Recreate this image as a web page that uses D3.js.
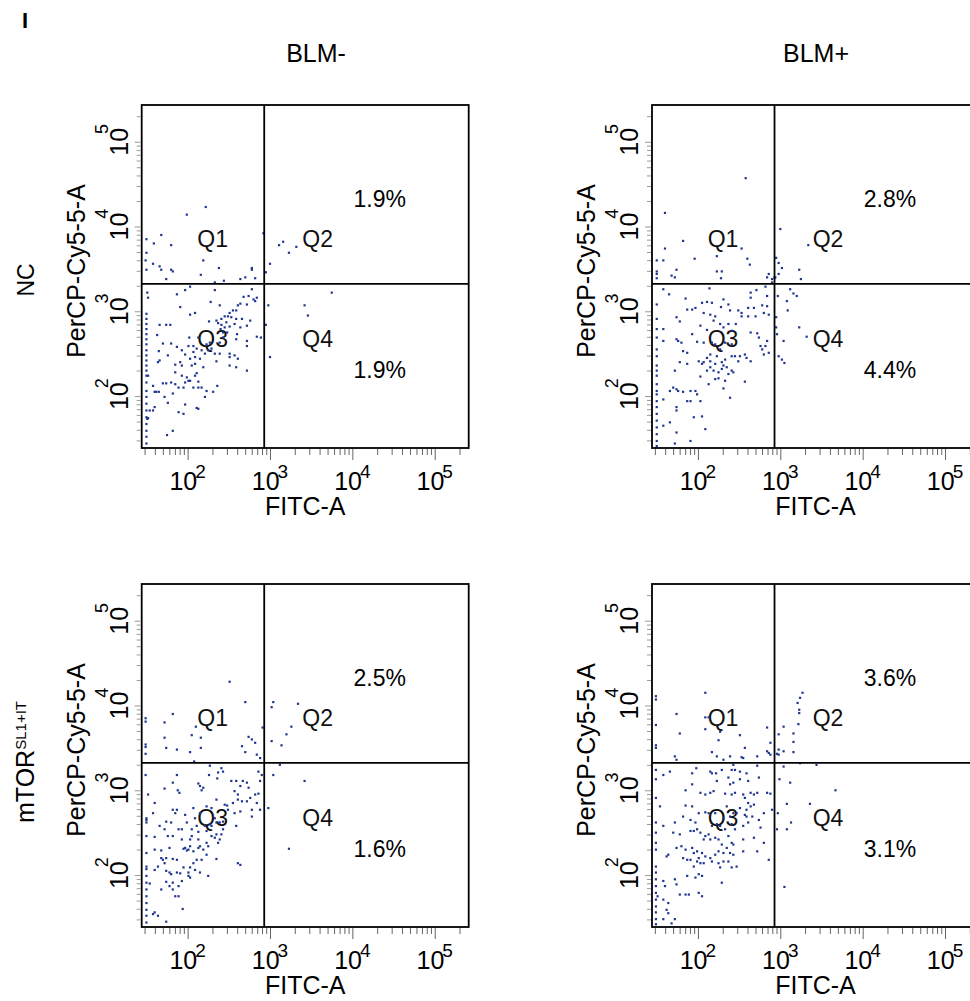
<!DOCTYPE html>
<html>
<head>
<meta charset="utf-8">
<script src="https://cdn.jsdelivr.net/npm/d3@7"></script>
<style>
  body { margin: 0; background: #fff; }
  svg { display: block; font-family: "Liberation Sans", Arial, sans-serif; }
</style>
</head>
<body>
<div id="chart"></div>
<script>
// column / row headings
const columns = ["BLM-", "BLM+"];
const rows = ["NC", "mTOR"];
const rowSup = ["", "SL1+IT"];

// quadrant gates (FITC-A, PerCP-Cy5-5-A)
const gateFitc = 851;
const gatePercp = 2100;

// Q2 / Q4 percentages per panel (NC-, NC+, mTOR-, mTOR+)
const q2Pct = ["1.9%", "2.8%", "2.5%", "3.6%"];
const q4Pct = ["1.9%", "4.4%", "1.6%", "3.1%"];
const quadNames = ["Q1", "Q2", "Q3", "Q4"];
const decades = [2, 3, 4, 5];

// events as [log10 FITC-A, log10 PerCP-Cy5-5-A]
const ncNeg = [
  [2.22,4.23],[1.99,4.14],[1.68,3.90],[1.59,3.80],[1.80,3.78],[1.50,3.85],[1.50,3.69],[2.19,3.60],[1.58,3.56],[1.66,3.53],
  [1.68,3.49],[1.50,3.49],[1.80,3.49],[1.82,3.47],[2.16,3.43],[2.38,3.51],[2.78,3.51],[2.78,3.49],[1.74,3.38],[2.33,3.34],
  [2.44,3.36],[2.64,3.38],[2.70,3.40],[2.82,3.39],[2.92,3.92],[1.49,3.60],
  [3.11,3.78],[3.16,3.82],[3.23,3.69],[3.32,3.76],[3.00,3.56],[2.95,3.46],
  [2.98,3.07],[3.42,3.07],[3.46,2.95],[3.75,3.22],[3.00,2.46],[2.95,2.84],
  [1.51,3.22],[1.52,3.16],[1.87,3.20],[1.97,3.25],[2.03,3.29],[2.33,3.25],[2.78,3.26],[2.68,3.17],[2.74,3.18],[2.80,3.14],
  [2.84,3.16],[2.82,3.12],[2.28,3.11],[2.64,3.09],[2.72,3.08],[2.61,3.07],[2.39,3.07],[1.91,3.05],[2.09,2.98],[2.03,2.96],
  [2.59,3.01],[2.51,2.98],[2.55,3.01],[2.45,2.94],[2.49,2.94],[2.53,2.93],[2.59,2.91],[2.66,2.91],[2.41,2.91],[2.35,2.89],
  [2.26,2.88],[2.37,2.86],[1.66,2.84],[1.74,2.84],[1.79,2.84],[1.50,2.97],[1.50,2.91],[1.50,2.85],[1.50,2.79],[1.50,2.73],
  [1.50,2.67],[1.50,2.61],[1.63,2.72],[1.70,2.62],[1.80,2.62],[2.02,2.69],[2.01,2.59],[2.07,2.59],[2.13,2.69],[2.23,2.61],
  [2.27,2.63],[2.39,2.63],[2.43,2.69],[2.48,2.75],[2.51,2.82],[2.57,2.85],[2.64,2.81],[2.72,2.83],[2.76,2.89],[2.72,2.65],
  [2.72,2.59],[2.84,2.70],[2.89,2.69],[2.59,2.67],[2.60,2.73],[2.40,2.79],[2.43,2.75],[2.45,2.81],[2.47,2.87],[2.41,2.84],
  [2.11,2.56],[2.17,2.54],[2.21,2.50],[2.25,2.54],[2.29,2.56],[2.33,2.50],[2.35,2.41],[2.39,2.50],[2.51,2.50],[2.51,2.46],
  [2.57,2.48],[2.61,2.44],[2.51,2.36],[2.59,2.34],[2.72,2.30],[1.65,2.53],[1.76,2.48],[1.87,2.58],[1.93,2.54],[1.97,2.49],
  [2.07,2.52],[2.09,2.46],[2.15,2.44],[1.50,2.54],[1.50,2.48],[1.50,2.42],[1.50,2.36],[1.50,2.30],[1.50,2.24],[1.64,2.40],
  [1.66,2.42],[1.85,2.37],[1.91,2.40],[1.93,2.36],[2.03,2.44],[2.05,2.36],[2.09,2.38],[2.19,2.34],[1.85,2.28],[1.93,2.24],
  [1.99,2.22],[2.03,2.18],[2.09,2.24],[2.11,2.27],[2.13,2.17],[2.01,2.18],[1.97,2.16],[1.70,2.15],[1.74,2.15],[1.80,2.16],
  [1.85,2.14],[1.89,2.10],[1.95,2.10],[2.07,2.10],[2.13,2.10],[2.17,2.10],[2.23,2.06],[2.36,2.12],[2.31,2.05],[1.52,2.24],
  [1.58,2.12],[1.60,2.05],[1.62,2.05],[1.65,2.05],[1.72,1.99],[1.76,1.92],[1.82,2.03],[2.21,1.99],[1.50,2.16],[1.50,2.06],
  [1.50,1.99],[1.50,1.91],[1.50,1.83],[1.50,1.75],[1.50,1.67],[1.50,1.59],[1.50,1.52],[1.50,1.44],[1.54,1.83],[1.58,1.83],
  [1.60,1.87],[1.89,1.81],[1.95,1.79],[1.97,1.90],[2.11,1.86],[2.13,1.85],[1.51,1.73],[1.52,1.74],[1.82,1.59],[1.75,1.54]
];

const ncPos = [
  [2.58,4.57],[1.60,4.16],[1.82,3.83],[1.60,3.74],[2.53,3.74],[1.50,3.60],[1.58,3.60],[1.96,3.62],[2.23,3.65],[2.60,3.62],
  [2.63,3.55],[1.74,3.49],[1.68,3.42],[1.72,3.40],[2.23,3.47],[2.29,3.47],[2.28,3.39],[1.50,3.47],[1.50,3.44],[1.50,3.39],
  [2.86,3.44],[2.84,3.40],[2.90,3.38],[2.93,3.40],
  [3.00,3.97],[3.34,3.78],[2.95,3.63],[2.98,3.57],[3.02,3.51],[3.23,3.49],[3.25,3.38],[2.98,3.44],[2.94,3.40],[2.90,3.34],
  [2.97,3.18],[3.12,3.26],[3.16,3.21],[3.20,3.18],[3.08,3.12],[3.09,3.01],[2.95,2.93],[2.95,2.81],[3.04,2.65],[2.98,2.47],
  [3.02,2.43],[3.05,2.39],[3.23,2.81],[3.32,2.70],[2.96,2.73],
  [1.58,3.26],[1.65,3.20],[2.14,3.27],[2.64,3.22],[2.71,3.25],[2.82,3.29],[1.50,3.08],[1.85,3.15],[1.97,3.04],[2.05,3.10],
  [2.11,3.11],[2.17,3.10],[2.31,3.14],[2.64,3.16],[2.84,3.18],[2.78,3.07],[2.84,3.06],[1.87,3.02],[1.93,3.02],[2.07,2.98],
  [2.15,2.96],[2.28,3.05],[2.37,3.08],[2.39,3.01],[2.49,3.01],[2.53,2.98],[2.61,3.04],[2.68,3.04],[2.53,2.94],[2.61,2.94],
  [2.70,2.94],[2.80,2.98],[2.86,2.96],[1.74,2.93],[1.78,2.88],[2.21,2.94],[2.19,2.89],[2.46,2.85],[2.03,2.83],[2.11,2.78],
  [2.27,2.85],[2.37,2.85],[2.31,2.81],[2.41,2.77],[1.50,2.91],[1.50,2.79],[1.50,2.69],[1.58,2.79],[1.93,2.73],[1.99,2.64],
  [2.07,2.63],[2.64,2.75],[2.72,2.74],[2.74,2.69],[2.84,2.65],[2.82,2.59],[1.74,2.67],[1.76,2.65],[1.80,2.63],[1.58,2.65],
  [1.82,2.53],[1.87,2.51],[2.17,2.63],[2.21,2.61],[2.33,2.63],[2.41,2.61],[1.50,2.55],[1.50,2.47],[2.78,2.55],[2.80,2.49],
  [2.86,2.51],[2.76,2.59],[2.27,2.55],[2.15,2.49],[2.11,2.45],[2.23,2.47],[2.33,2.43],[2.41,2.47],[2.45,2.47],[2.51,2.47],
  [2.57,2.49],[2.59,2.45],[2.49,2.41],[2.64,2.41],[2.01,2.41],[2.05,2.38],[2.07,2.40],[2.15,2.41],[2.21,2.38],[2.29,2.40],
  [2.31,2.36],[2.29,2.32],[2.35,2.34],[2.41,2.30],[2.43,2.28],[2.37,2.26],[2.25,2.28],[2.19,2.30],[2.15,2.34],[2.11,2.30],
  [1.78,2.40],[1.87,2.38],[1.72,2.30],[1.50,2.36],[1.50,2.30],[1.50,2.24],[2.03,2.23],[2.21,2.20],[2.25,2.21],[2.33,2.18],
  [2.57,2.17],[1.66,2.06],[1.70,2.10],[1.74,2.08],[1.76,2.06],[1.82,2.05],[1.91,2.06],[1.97,2.06],[1.99,2.02],[2.13,2.14],
  [2.31,2.09],[2.39,1.98],[1.50,2.14],[1.50,2.06],[1.50,2.02],[1.58,1.96],[1.87,1.94],[1.91,1.94],[2.03,1.94],[1.74,1.87],
  [1.74,1.83],[2.05,1.76],[1.95,1.75],[1.50,1.94],[1.50,1.87],[1.50,1.79],[1.50,1.71],[1.50,1.63],[1.50,1.55],[1.50,1.47],
  [1.50,1.41],[1.58,1.65],[1.66,1.69],[1.74,1.57],[2.09,1.61],[1.91,1.47],[1.72,1.44]
];

const mtorNeg = [
  [2.51,4.28],[2.70,4.04],[1.82,3.90],[1.72,3.80],[2.10,3.75],[1.49,3.85],[1.49,3.81],[2.05,3.65],[2.16,3.62],[1.72,3.62],
  [1.49,3.54],[1.49,3.51],[1.74,3.50],[1.87,3.48],[2.03,3.45],[2.16,3.50],[2.66,3.52],[2.74,3.63],[2.78,3.60],[2.82,3.56],
  [2.70,3.45],[2.84,3.42],[2.88,3.38],[2.91,3.74],[1.49,3.43],[2.08,3.34],
  [3.04,4.04],[3.02,3.98],[3.34,4.02],[3.26,3.75],[3.20,3.66],[3.02,3.58],[3.14,3.53],[3.12,3.30],
  [3.04,3.18],[2.98,2.79],[3.42,3.11],[3.23,2.31],
  [1.49,3.18],[1.87,3.18],[2.27,3.29],[2.41,3.26],[2.37,3.21],[2.26,3.18],[1.82,3.09],[2.13,3.08],[2.15,3.05],[2.19,3.03],
  [2.17,3.00],[1.72,3.02],[1.88,3.00],[1.90,2.97],[2.36,3.14],[2.43,3.22],[2.53,3.11],[2.59,3.11],[2.67,3.11],[2.72,3.09],
  [2.64,3.05],[2.74,3.03],[2.86,3.22],[2.90,3.18],[2.88,3.11],[2.82,2.95],[2.86,2.96],[2.57,2.99],[2.61,2.95],[2.76,2.91],
  [2.72,2.87],[2.66,2.87],[2.84,2.85],[2.88,2.77],[1.52,2.95],[1.60,2.85],[1.58,2.73],[1.82,2.77],[1.87,2.77],[1.85,2.73],
  [2.07,2.79],[1.97,2.71],[2.09,2.67],[2.15,2.73],[2.23,2.81],[2.29,2.79],[2.35,2.89],[2.45,2.83],[2.48,2.82],[2.55,2.85],
  [2.61,2.89],[2.33,2.67],[2.35,2.62],[2.43,2.63],[2.49,2.77],[2.57,2.73],[2.64,2.75],[2.78,2.77],[2.78,2.69],[2.59,2.58],
  [2.39,2.62],[1.50,2.65],[1.50,2.62],[1.50,2.67],[1.66,2.58],[1.74,2.63],[1.80,2.62],[1.89,2.54],[1.93,2.54],[1.99,2.62],
  [2.05,2.54],[2.11,2.58],[2.13,2.51],[2.21,2.58],[2.27,2.60],[2.23,2.52],[2.29,2.46],[2.33,2.44],[2.35,2.48],[2.39,2.42],
  [2.41,2.48],[2.43,2.54],[2.29,2.58],[1.50,2.46],[1.60,2.45],[1.72,2.54],[1.76,2.46],[1.82,2.46],[1.93,2.42],[2.03,2.42],
  [2.05,2.46],[2.13,2.42],[2.15,2.34],[2.23,2.38],[2.25,2.34],[2.37,2.38],[2.19,2.30],[1.60,2.30],[1.68,2.29],[1.78,2.32],
  [1.95,2.31],[1.97,2.32],[1.99,2.29],[2.01,2.30],[2.03,2.34],[2.07,2.28],[2.13,2.32],[2.17,2.18],[2.23,2.24],[2.35,2.19],
  [2.11,2.18],[2.07,2.14],[2.03,2.09],[2.09,2.06],[2.15,2.03],[2.25,1.99],[2.01,1.99],[2.61,2.14],[2.64,2.12],[1.68,2.20],
  [1.70,2.18],[1.74,2.20],[1.82,2.19],[1.87,2.18],[1.72,2.14],[1.64,2.10],[1.95,2.09],[1.50,2.26],[1.50,2.10],[1.60,2.06],
  [1.74,2.05],[1.78,2.03],[1.80,2.01],[1.87,2.03],[1.91,2.02],[2.01,2.03],[2.03,1.97],[1.93,1.93],[1.82,1.91],[1.74,1.92],
  [1.68,1.83],[1.78,1.87],[1.82,1.83],[1.89,1.87],[1.85,1.75],[1.89,1.75],[1.94,1.60],[1.50,2.07],[1.50,1.99],[1.50,1.91],
  [1.50,1.83],[1.50,1.75],[1.50,1.67],[1.50,1.59],[1.50,1.52],[1.50,1.44],[1.54,1.90],[1.60,1.56],[1.64,1.52],[1.58,1.54],
  [1.74,1.45]
];

const mtorPos = [
  [2.09,4.15],[1.49,4.11],[1.49,4.07],[1.74,3.90],[2.09,3.86],[2.13,3.86],[2.09,3.72],[2.27,3.69],[1.49,3.77],[1.78,3.67],
  [2.25,3.59],[2.84,3.74],[2.51,3.65],[2.57,3.50],[1.49,3.53],[1.49,3.50],[2.88,3.56],[2.84,3.46],[2.86,3.44],[1.72,3.40],
  [1.74,3.36],[2.17,3.45],[2.23,3.40],[2.31,3.36],[2.39,3.40],[2.53,3.39],[2.55,3.38],[2.72,3.40],[2.88,3.42],
  [3.27,4.15],[3.24,4.09],[3.21,4.03],[3.23,3.95],[3.23,3.91],[3.22,3.78],[3.04,3.75],[2.98,3.66],[3.16,3.67],[3.16,3.57],
  [3.04,3.46],[2.96,3.43],[2.98,3.48],[3.16,3.45],[2.98,3.42],
  [3.04,3.28],[3.12,3.09],[2.99,3.13],[3.08,2.84],[3.24,3.32],[3.44,3.30],[3.67,3.00],[3.36,2.84],[3.13,2.62],[3.08,2.54],
  [2.96,2.54],[3.05,1.86],[2.97,2.73],
  [1.49,3.24],[1.58,3.18],[1.66,3.22],[1.93,3.20],[1.98,3.26],[2.15,3.22],[2.17,3.20],[2.22,3.20],[2.29,3.24],[2.41,3.24],
  [2.45,3.24],[2.51,3.22],[2.59,3.20],[2.72,3.29],[2.43,3.30],[1.49,3.13],[1.93,3.07],[2.23,3.11],[2.37,3.15],[2.39,3.07],
  [2.43,3.09],[2.51,3.13],[2.61,3.11],[2.74,3.15],[1.85,3.00],[2.19,2.99],[2.03,2.97],[2.09,2.95],[2.15,2.97],[1.49,2.91],
  [2.33,2.96],[2.41,2.95],[2.45,2.97],[2.55,2.95],[2.57,2.91],[2.64,2.97],[2.68,2.95],[2.72,2.97],[2.84,2.97],[2.88,2.96],
  [2.61,2.85],[2.64,2.81],[2.68,2.83],[2.59,2.77],[2.51,2.79],[2.47,2.73],[1.85,2.82],[1.93,2.81],[2.01,2.73],[2.09,2.74],
  [2.13,2.73],[2.21,2.73],[2.35,2.81],[2.31,2.67],[2.39,2.69],[2.43,2.73],[2.57,2.71],[2.59,2.69],[2.66,2.69],[2.80,2.73],
  [2.74,2.65],[2.90,2.77],[1.54,2.81],[1.58,2.58],[1.72,2.62],[1.82,2.69],[1.91,2.65],[1.97,2.62],[2.17,2.58],[2.23,2.60],
  [2.27,2.58],[2.33,2.54],[2.45,2.54],[2.41,2.60],[2.55,2.58],[2.61,2.62],[2.76,2.56],[1.70,2.50],[1.78,2.48],[1.91,2.52],
  [1.95,2.52],[1.99,2.54],[2.03,2.50],[2.07,2.42],[2.09,2.46],[2.13,2.48],[2.15,2.42],[2.21,2.44],[2.25,2.42],[2.29,2.36],
  [2.37,2.46],[2.41,2.38],[2.43,2.36],[2.55,2.42],[2.68,2.44],[2.80,2.38],[2.72,2.28],[1.49,2.62],[1.49,2.50],[1.49,2.38],
  [1.64,2.24],[1.62,2.22],[1.74,2.32],[1.80,2.34],[1.85,2.30],[1.93,2.32],[1.95,2.26],[1.99,2.28],[2.01,2.20],[2.05,2.26],
  [2.09,2.22],[2.15,2.20],[2.21,2.24],[2.25,2.28],[2.31,2.26],[2.35,2.32],[2.39,2.26],[2.43,2.24],[2.55,2.28],[2.86,2.18],
  [1.82,2.20],[1.87,2.18],[1.91,2.18],[1.95,2.10],[1.99,2.16],[2.03,2.14],[2.07,2.14],[2.17,2.16],[2.25,2.14],[2.31,2.16],
  [2.37,2.16],[2.27,2.09],[2.41,2.09],[2.47,2.10],[1.49,2.30],[1.49,2.10],[1.49,2.03],[1.58,1.93],[1.60,1.87],[1.72,1.95],
  [1.74,1.89],[1.87,1.99],[1.97,1.97],[2.01,2.01],[2.05,1.99],[2.29,1.91],[1.78,1.77],[1.85,1.77],[1.89,1.77],[2.01,1.79],
  [2.05,1.75],[1.49,1.95],[1.49,1.87],[1.49,1.79],[1.49,1.71],[1.49,1.63],[1.49,1.56],[1.49,1.48],[1.49,1.42],[1.51,1.75],
  [1.58,1.71],[1.64,1.67],[1.62,1.59],[1.64,1.55],[1.68,1.43],[1.72,1.48],[1.58,1.48]
];

// ---- layout ----
const W = 327, H = 343;
const colX = [141.7, 652];
const rowY = [105, 584];
const titleX = [316, 816];

const svg = d3.select("#chart")
  .append("svg")
  .attr("width", 970)
  .attr("height", 1001);

const x = d3.scaleLog().domain([27.7, 258500]).range([0, W]);
const y = d3.scaleLog().domain([24.4, 271000]).range([H, 0]);
const isMajor = v => Math.abs(Math.log10(v) - Math.round(Math.log10(v))) < 1e-9;

// panel letter
svg.append("text")
  .attr("x", 22).attr("y", 28)
  .style("font-size", "22px").style("font-weight", "bold")
  .text("I");

// column titles
svg.selectAll(".coltitle")
  .data(columns)
  .join("text")
  .attr("class", "coltitle")
  .attr("x", (d, i) => titleX[i])
  .attr("y", 62)
  .attr("text-anchor", "middle")
  .style("font-size", "25px")
  .text(d => d);

// row titles (rotated)
rows.forEach((r, i) => {
  const t = svg.append("text")
    .attr("transform", `translate(34, ${rowY[i] + (i === 0 ? 175 : 178)}) rotate(-90)`)
    .attr("text-anchor", "middle")
    .style("font-size", i === 0 ? "23px" : "25px");
  t.append("tspan").text(r);
  if (rowSup[i]) {
    t.append("tspan").attr("dy", -8).style("font-size", "15px").text(rowSup[i]);
  }
});

const panels = [
  {data: ncNeg, col: 0, row: 0},
  {data: ncPos, col: 1, row: 0},
  {data: mtorNeg, col: 0, row: 1},
  {data: mtorPos, col: 1, row: 1}
];

panels.forEach((p, i) => {
  const g = svg.append("g")
    .attr("transform", `translate(${colX[p.col]}, ${rowY[p.row]})`);

  // quadrant names and percentages
  g.selectAll(".q")
    .data(quadNames)
    .join("text")
    .attr("class", "q")
    .attr("x", (d, k) => k % 2 === 0 ? 71 : 176)
    .attr("y", (d, k) => k < 2 ? 142 : 242)
    .attr("text-anchor", "middle")
    .style("font-size", "23px")
    .style("fill", "#111")
    .text(d => d);

  g.append("text")
    .attr("x", 238).attr("y", 102)
    .attr("text-anchor", "middle")
    .style("font-size", "23px")
    .text(q2Pct[i]);
  g.append("text")
    .attr("x", 238).attr("y", 273)
    .attr("text-anchor", "middle")
    .style("font-size", "23px")
    .text(q4Pct[i]);

  // events
  g.selectAll(".ev")
    .data(p.data)
    .join("rect")
    .attr("class", "ev")
    .attr("x", d => x(10 ** d[0]) - 1.1)
    .attr("y", d => y(10 ** d[1]) - 1.1)
    .attr("width", 2.2)
    .attr("height", 2.2)
    .style("fill", "#1f3690");

  // gates
  g.append("line")
    .attr("x1", x(gateFitc)).attr("x2", x(gateFitc))
    .attr("y1", 0).attr("y2", H)
    .style("stroke", "#000").style("stroke-width", 1.8);
  g.append("line")
    .attr("x1", 0).attr("x2", W)
    .attr("y1", y(gatePercp)).attr("y2", y(gatePercp))
    .style("stroke", "#000").style("stroke-width", 1.8);

  // frame
  g.append("rect")
    .attr("width", W).attr("height", H)
    .style("fill", "none").style("stroke", "#000").style("stroke-width", 1.8);

  // x axis ticks
  const xt = x.ticks();
  g.append("g")
    .attr("transform", `translate(0, ${H + 1})`)
    .call(d3.axisBottom(x).tickValues(xt.filter(v => !isMajor(v))).tickSize(6).tickFormat(""))
    .call(a => a.select(".domain").remove())
    .call(a => a.selectAll("line").style("stroke", "#666"));
  g.append("g")
    .attr("transform", `translate(0, ${H + 1})`)
    .call(d3.axisBottom(x).tickValues(xt.filter(isMajor)).tickSize(11).tickFormat(""))
    .call(a => a.select(".domain").remove())
    .call(a => a.selectAll("line").style("stroke", "#666"));

  // y axis ticks
  const yt = y.ticks();
  g.append("g")
    .attr("transform", "translate(-1, 0)")
    .call(d3.axisLeft(y).tickValues(yt.filter(v => !isMajor(v))).tickSize(4).tickFormat(""))
    .call(a => a.select(".domain").remove())
    .call(a => a.selectAll("line").style("stroke", "#999"));
  g.append("g")
    .attr("transform", "translate(-1, 0)")
    .call(d3.axisLeft(y).tickValues(yt.filter(isMajor)).tickSize(6).tickFormat(""))
    .call(a => a.select(".domain").remove())
    .call(a => a.selectAll("line").style("stroke", "#999"));

  // x tick labels 10^n
  const xl = g.selectAll(".xl")
    .data(decades)
    .join("text")
    .attr("class", "xl")
    .attr("x", d => x(10 ** d))
    .attr("y", H + 42)
    .attr("text-anchor", "middle")
    .style("font-size", "25px");
  xl.append("tspan").text("10");
  xl.append("tspan").attr("dx", -2).attr("dy", -12).style("font-size", "19px").text(d => d);

  // y tick labels 10^n (rotated)
  const yl = g.selectAll(".yl")
    .data(decades)
    .join("text")
    .attr("class", "yl")
    .attr("transform", d => `translate(-14, ${y(10 ** d)}) rotate(-90)`)
    .attr("x", -14)
    .style("font-size", "25px");
  yl.append("tspan").text("10");
  yl.append("tspan").attr("dx", -6).attr("dy", -20).style("font-size", "18px").text(d => d);

  // axis titles
  g.append("text")
    .attr("x", W / 2).attr("y", H + 67)
    .attr("text-anchor", "middle")
    .style("font-size", "25px")
    .text("FITC-A");
  g.append("text")
    .attr("transform", `translate(-57, 166) rotate(-90)`)
    .attr("text-anchor", "middle")
    .style("font-size", "25px")
    .text("PerCP-Cy5-5-A");
});
</script>
</body>
</html>
